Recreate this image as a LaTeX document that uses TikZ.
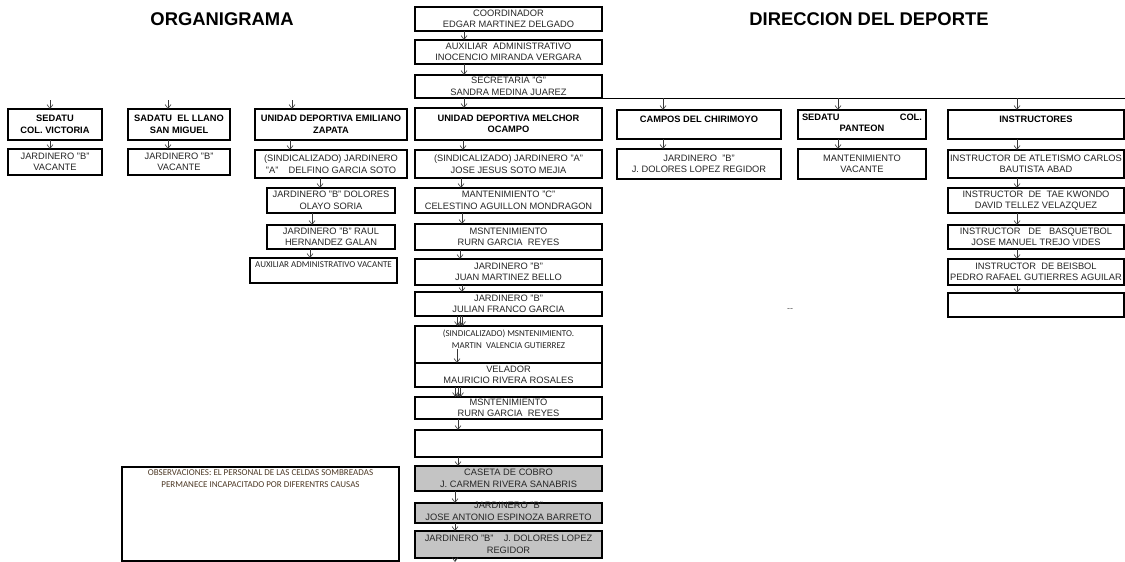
\documentclass[tikz,border=0pt]{standalone}
\usepackage{fontspec}
\setmainfont{Liberation Sans}
\newfontfamily\calib{Carlito}
\usetikzlibrary{arrows.meta}

\definecolor{ink}{HTML}{262626}
\definecolor{shadecell}{HTML}{C4C4C4}
\definecolor{notecol}{HTML}{4E3A26}
\definecolor{arrowcol}{HTML}{383838}

\tikzset{
  boxframe/.style={draw=black, line width=1.1pt, inner sep=0pt, outer sep=0pt},
  greyfill/.style={fill=shadecell},
  boxtext/.style={inner sep=0pt, align=center, text=ink, font=\fontsize{9.3}{11.5}\selectfont},
  headtext/.style={text=black, font=\fontsize{9.3}{11.5}\selectfont\bfseries},
  narrowtext/.style={font=\calib\fontsize{9}{12}\selectfont},
  linkarrow/.style={draw=arrowcol, line width=0.6pt, -{Straight Barb[length=4pt,width=6pt]}},
  busline/.style={draw=black, line width=1pt},
  titletext/.style={inner sep=0pt, font=\fontsize{18.4}{22}\selectfont\bfseries}
}

% #1 text options, #2 frame options, #3 name, #4,#5 top-left, #6,#7 bottom-right, #8 text
\newcommand\orgbox[8][]{%
  \node[boxframe,#2,minimum width={(#6-#4)*1pt},minimum height={(#7-#5)*1pt},anchor=north west] (#3) at (#4,#5) {};
  \node[boxtext,#1] (#3-t) at (#3.center) {#8};}

% arrow from the bottom of one box to the top of the next, at column x = #3
\newcommand\link[3]{\draw[linkarrow] (#1.south -| #3,0) -- (#2.north -| #3,0);}

\begin{document}
\begin{tikzpicture}[x=1pt,y=-1pt]
\fill[white] (0,0) rectangle (1125,562);
\useasboundingbox (0,0) rectangle (1125,562);

% titles
\node[titletext] (orgtitle) at (222,19) {ORGANIGRAMA};
\node[titletext] (dirtitle) at (869,19) {DIRECCION DEL DEPORTE};

% central chain
\orgbox{}{coord}{415}{7}{602}{31}{COORDINADOR\\EDGAR MARTINEZ DELGADO}
\orgbox{}{aux}{415}{40}{602}{64}{AUXILIAR\ \ ADMINISTRATIVO\\INOCENCIO MIRANDA VERGARA}
\orgbox{}{sec}{415}{75}{602}{98}{SECRETARIA "G"\\SANDRA MEDINA JUAREZ}
\orgbox[headtext]{}{mel}{415}{108}{602}{140}{UNIDAD DEPORTIVA MELCHOR\\OCAMPO}
\orgbox{}{c1}{415}{150}{602}{178}{(SINDICALIZADO) JARDINERO "A"\\JOSE JESUS SOTO MEJIA}
\orgbox{}{c2}{415}{188}{602}{213}{MANTENIMIENTO "C"\\CELESTINO AGUILLON MONDRAGON}
\orgbox{}{c3}{415}{224}{602}{250}{MSNTENIMIENTO\\RURN GARCIA\ \ REYES}
\orgbox{}{c4}{415}{259}{602}{285}{JARDINERO "B"\\JUAN MARTINEZ BELLO}
\orgbox{}{c5}{415}{292}{602}{316}{JARDINERO "B"\\JULIAN FRANCO GARCIA}
\orgbox[narrowtext,yshift=5.5pt]{}{c6}{415}{326}{602}{363}{(SINDICALIZADO) MSNTENIMIENTO.\\MARTIN\ \ VALENCIA GUTIERREZ}
\orgbox{}{c7}{415}{363}{602}{387}{VELADOR\\MAURICIO RIVERA ROSALES}
\orgbox{}{c8}{415}{397}{602}{419}{MSNTENIMIENTO\\RURN GARCIA\ \ REYES}
\orgbox{}{c9}{415}{430}{602}{457}{}
\orgbox{greyfill}{c10}{415}{466}{602}{491}{CASETA DE COBRO\\J. CARMEN RIVERA SANABRIS}
\orgbox[yshift=1.5pt]{greyfill}{c11}{415}{503}{602}{523}{JARDINERO "B"\\JOSE ANTONIO ESPINOZA BARRETO}
\orgbox{greyfill}{c12}{415}{531}{602}{558}{JARDINERO "B"\ \ \ \ J. DOLORES LOPEZ\\REGIDOR}

% Unidad Deportiva Emiliano Zapata
\orgbox[headtext]{}{e0}{255}{109}{407}{140}{UNIDAD DEPORTIVA EMILIANO\\ZAPATA}
\orgbox{}{e1}{255}{150}{407}{178}{(SINDICALIZADO) JARDINERO\\"A"\ \ \ \ DELFINO GARCIA SOTO}
\orgbox{}{e2}{267}{188}{395}{213}{JARDINERO "B" DOLORES\\OLAYO SORIA}
\orgbox{}{e3}{267}{225}{395}{249}{JARDINERO "B" RAUL\\HERNANDEZ GALAN}
\orgbox[narrowtext,yshift=5.5pt]{}{e4}{250}{258}{397}{283}{AUXILIAR ADMINISTRATIVO VACANTE}

% Sedatu columns
\orgbox[headtext]{}{v0}{8}{109}{102}{140}{SEDATU\\COL. VICTORIA}
\orgbox{}{v1}{8}{149}{102}{175}{JARDINERO "B"\\VACANTE}
\orgbox[headtext]{}{l0}{128}{109}{230}{140}{SADATU\ \ EL LLANO\\SAN MIGUEL}
\orgbox{}{l1}{128}{149}{230}{175}{JARDINERO "B"\\VACANTE}

% right-hand branches
\orgbox[headtext,yshift=5.5pt]{}{ch0}{617}{110}{781}{139}{CAMPOS DEL CHIRIMOYO}
\orgbox{}{ch1}{617}{149}{781}{179}{JARDINERO\ \ "B"\\J. DOLORES LOPEZ REGIDOR}
\orgbox[headtext,yshift=1.5pt]{}{p0}{798}{110}{926}{139}{\makebox[120pt]{SEDATU\hfill COL.}\\PANTEON}
\orgbox{}{p1}{798}{149}{926}{179}{MANTENIMIENTO\\VACANTE}
\orgbox[headtext,yshift=5.5pt]{}{i0}{948}{110}{1124}{139}{INSTRUCTORES}
\orgbox{}{i1}{948}{150}{1124}{178}{INSTRUCTOR DE ATLETISMO CARLOS\\BAUTISTA ABAD}
\orgbox{}{i2}{948}{188}{1124}{213}{INSTRUCTOR\ \ DE\ \ TAE KWONDO\\DAVID TELLEZ VELAZQUEZ}
\orgbox{}{i3}{948}{225}{1124}{249}{INSTRUCTOR\ \ \ DE\ \ \ BASQUETBOL\\JOSE MANUEL TREJO VIDES}
\orgbox{}{i4}{948}{259}{1124}{285}{INSTRUCTOR\ \ DE BEISBOL\\PEDRO RAFAEL GUTIERRES AGUILAR}
\orgbox{}{i5}{948}{293}{1124}{317}{}

% note box
\orgbox[narrowtext,text=notecol,yshift=35pt]{}{obs}{122}{467}{399}{561}{OBSERVACIONES: EL PERSONAL DE LAS CELDAS SOMBREADAS\\PERMANECE INCAPACITADO POR DIFERENTRS CAUSAS}

\node[inner sep=0pt, text=black!65, font=\fontsize{9}{10}\selectfont] (dashmark) at (790,310) {-{}-};

% bus line to the right-hand branches
\coordinate (bus-end) at (1125,98);
\draw[busline] (sec.south east) -- (bus-end);

% central chain arrows
\link{coord}{aux}{464}
\link{aux}{sec}{464}
\link{sec}{mel}{464}
\link{mel}{c1}{463}
\link{c1}{c2}{461}
\link{c2}{c3}{462}
\link{c3}{c4}{460}
\link{c4}{c5}{462}
\foreach \dx in {-2.5,0,2.5} {\link{c5}{c6}{460+\dx}}
\draw[linkarrow] (c6-t.south -| 457,0) -- (c7.north -| 457,0);
\foreach \dx in {-2.5,0,2.5} {\link{c7}{c8}{458+\dx}}
\link{c8}{c9}{458}
\link{c9}{c10}{458}
\link{c10}{c11}{455}
\link{c11}{c12}{455}
\coordinate (tail) at (455,562);
\draw[linkarrow] (c12.south -| tail) -- (tail);

% left columns
\coordinate (v-in) at (50,100);
\coordinate (l-in) at (168,100);
\coordinate (e-in) at (292,100);
\draw[linkarrow] (v-in) -- (v0.north -| v-in);
\draw[linkarrow] (l-in) -- (l0.north -| l-in);
\draw[linkarrow] (e-in) -- (e0.north -| e-in);
\link{v0}{v1}{50}
\link{l0}{l1}{168}
\link{e0}{e1}{290}
\link{e1}{e2}{320}
\link{e2}{e3}{312}
\link{e3}{e4}{310}

% right columns
\draw[linkarrow] (sec.south -| 663,0) -- (ch0.north -| 663,0);
\draw[linkarrow] (sec.south -| 838,0) -- (p0.north -| 838,0);
\draw[linkarrow] (sec.south -| 1017,0) -- (i0.north -| 1017,0);
\link{ch0}{ch1}{663}
\link{p0}{p1}{838}
\link{i0}{i1}{1017}
\link{i1}{i2}{1017}
\link{i2}{i3}{1017}
\link{i3}{i4}{1017}
\link{i4}{i5}{1017}
\end{tikzpicture}
\end{document}
